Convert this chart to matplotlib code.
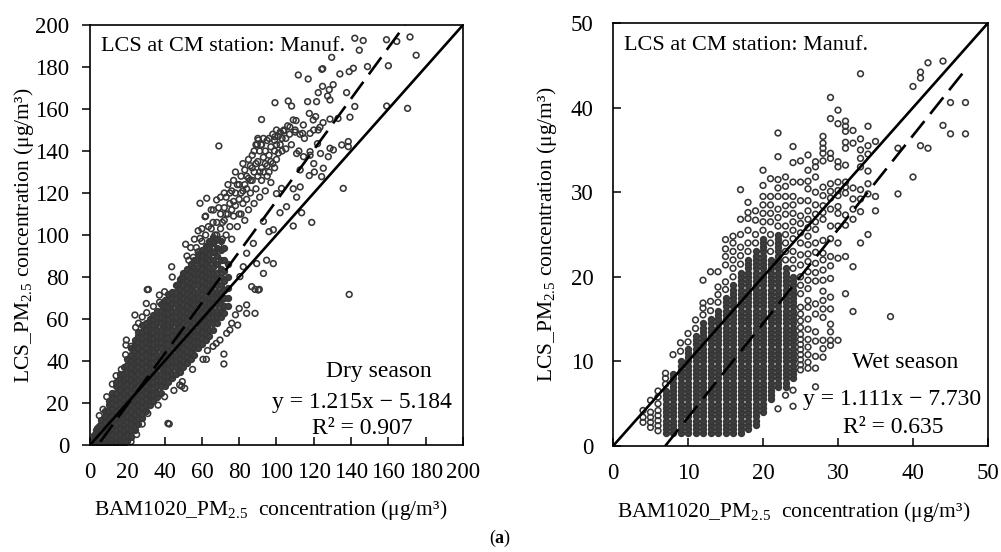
import matplotlib.pyplot as plt
import numpy as np

plt.rcParams['font.family'] = 'Liberation Serif'
plt.rcParams['mathtext.fontset'] = 'custom'
plt.rcParams['mathtext.rm'] = 'Liberation Serif'
plt.rcParams['mathtext.it'] = 'Liberation Serif:italic'
plt.rcParams['mathtext.bf'] = 'Liberation Serif:bold'

# ---------------- dry season (left) ----------------
dry_slope, dry_icpt, dry_r2 = 1.215, -5.184, 0.907
dry_fit_x = [5.5, 169]
dry_lim = 200

# dense core, one column per BAM value (overplotted into a solid mass)
dry_core_x = [2, 3, 4, 5, 6, 8, 10, 12, 14, 16, 18, 20, 22, 24, 26, 28, 30, 32, 34, 36,
              38, 40, 42, 44, 46, 48, 50, 52, 54, 56, 58, 60, 62, 64, 66, 68, 70, 72, 74]
dry_core_y = [
    [1, 3, 5],
    [1, 3, 5, 7],
    [1, 2, 4, 6, 8],
    [1, 3, 5, 7, 9],
    [1, 2, 4, 7, 10, 12],
    [1, 3, 5, 8, 11, 14, 16],
    [1, 2, 4, 7, 10, 13, 16, 19, 21],
    [1, 3, 5, 8, 11, 14, 17, 20, 23, 25],
    [1, 2, 4, 7, 10, 13, 16, 19, 22, 25, 28, 30],
    [1, 3, 5, 8, 11, 14, 17, 20, 23, 26, 29, 32, 34],
    [1, 2, 4, 7, 10, 13, 16, 19, 22, 25, 28, 31, 34, 37],
    [2, 5, 8, 11, 14, 17, 20, 23, 26, 29, 32, 35, 38, 41],
    [4, 7, 10, 13, 16, 19, 22, 25, 28, 31, 34, 37, 40, 43, 46],
    [7, 9, 12, 15, 18, 21, 24, 27, 30, 33, 36, 39, 42, 45, 48, 50],
    [10, 13, 16, 19, 22, 25, 28, 31, 34, 37, 40, 43, 46, 49, 52, 54],
    [13, 15, 18, 21, 24, 27, 30, 33, 36, 39, 42, 45, 48, 51, 54, 57],
    [16, 19, 22, 25, 28, 31, 34, 37, 40, 43, 46, 49, 52, 55, 58],
    [19, 21, 24, 27, 30, 33, 36, 39, 42, 45, 48, 51, 54, 57, 60],
    [21, 24, 27, 30, 33, 36, 39, 42, 45, 48, 51, 54, 57, 60, 62],
    [23, 25, 28, 31, 34, 37, 40, 43, 46, 49, 52, 55, 58, 61, 64],
    [25, 28, 31, 34, 37, 40, 43, 46, 49, 52, 55, 58, 61, 64, 67],
    [28, 30, 33, 36, 39, 42, 45, 48, 51, 54, 57, 60, 63, 66, 69],
    [30, 33, 36, 39, 42, 45, 48, 51, 54, 57, 60, 63, 66, 69, 72],
    [32, 34, 37, 40, 43, 46, 49, 52, 55, 58, 61, 64, 67, 70, 73],
    [34, 37, 40, 43, 46, 49, 52, 55, 58, 61, 64, 67, 70, 73, 76],
    [35, 38, 41, 44, 47, 50, 53, 56, 59, 62, 65, 68, 71, 74, 77, 79],
    [37, 40, 43, 46, 49, 52, 55, 58, 61, 64, 67, 70, 73, 76, 79, 82],
    [39, 42, 45, 48, 51, 54, 57, 60, 63, 66, 69, 72, 75, 78, 81, 84],
    [41, 44, 47, 50, 53, 56, 59, 62, 65, 68, 71, 74, 77, 80, 83, 86],
    [43, 46, 49, 52, 55, 58, 61, 64, 67, 70, 73, 76, 79, 82, 85, 88],
    [46, 49, 52, 55, 58, 61, 64, 67, 70, 73, 76, 79, 82, 85, 88, 91],
    [48, 51, 54, 57, 60, 63, 66, 69, 72, 75, 78, 81, 84, 87, 90, 93],
    [50, 53, 56, 59, 62, 65, 68, 71, 74, 77, 80, 83, 86, 89, 92, 95],
    [52, 55, 58, 61, 64, 67, 70, 73, 76, 79, 82, 85, 88, 91, 94, 97],
    [55, 58, 61, 64, 67, 70, 73, 76, 79, 82, 85, 88, 92, 96, 99],
    [58, 61, 64, 67, 70, 73, 76, 79, 82, 86, 90, 94, 98],
    [61, 64, 67, 70, 73, 76, 80, 84, 88, 93, 97],
    [63, 66, 70, 74, 78, 83, 88, 94],
    [66, 70, 75, 80, 86],
]

# scattered points around the core
dry_edge_pts = [
    (5, 14), (7, 17), (9, 23), (12, 29), (14, 33), (16.8, 36), (19.1, 43), (19.3, 47.6),
    (19.5, 50), (22, 47), (24.1, 61.9), (24.5, 56), (26, 58), (28, 61), (30.2, 67.4),
    (30.4, 63), (30.7, 74), (31.3, 74.1), (34, 66), (37.2, 71.4), (37.3, 68), (40, 73),
    (43.8, 84.9), (44.1, 80), (47.2, 76.2), (49.7, 80), (51.3, 95.6), (53, 88), (55.4, 89.4),
    (57, 94), (59, 98.4), (59, 115.1), (61.7, 108.7), (62.6, 117.5), (63.5, 104),
    (66.2, 111.9), (67.9, 116.7), (69.1, 142.4), (52, 90), (54, 94), (56, 98), (58, 102),
    (57, 88),
    (22, 1.6), (25, 5), (28, 10), (31, 15), (36.5, 19), (40, 23), (41.8, 10.3), (42.5, 10),
    (45, 26), (48.1, 28.6), (49.2, 28), (49.5, 30.2), (50.8, 27), (55, 36), (60.6, 40.8),
    (62.4, 40.8), (63, 45), (66, 47), (67.7, 48.4), (69.7, 50), (71.8, 43.3), (71.8, 38.6),
    (73.3, 53.2), (75, 54.8), (76, 58), (79.2, 57.1), (78, 62), (80, 65), (84, 66.7),
    (84, 62.7), (88.5, 74.1), (90.8, 74.1), (88.5, 62.7), (139, 71.7),
]
dry_band_pts = [
    (58, 92), (60, 97), (61, 90), (62, 100), (63, 94), (64, 88), (65, 103), (66, 97),
    (67, 92), (68, 106), (68, 100), (69, 95), (70, 110), (70, 103), (71, 98), (72, 107),
    (72, 113), (73, 100), (73, 118), (74, 110), (75, 104), (75, 115), (76, 98), (76, 121),
    (77, 109), (77, 126), (78, 114), (78, 120), (79, 104), (80, 117), (80, 124), (81, 110),
    (81, 128), (82, 115), (82, 121), (83, 107), (83, 131), (84, 122), (84, 117), (85, 127),
    (85, 112), (86, 133), (86, 120), (87, 126), (87, 138), (88, 115), (88, 130), (89, 143),
    (89, 122), (90, 135), (90, 128), (91, 118), (91, 140), (92, 132), (92, 126), (93, 146),
    (93, 137), (94, 121), (94, 140), (95, 133), (95, 128), (96, 146), (96, 138), (97, 142),
    (97, 125), (98, 148), (98, 134), (99, 145), (99, 140), (100, 150), (100, 136),
    (101, 147), (102, 143), (102, 149), (103, 140), (104, 150), (105, 146), (106, 152),
    (107, 148), (108, 143), (110, 150), (112, 140), (115, 146), (118, 138), (120, 150),
    (60, 103), (62, 109), (64, 96), (65, 112), (66, 106), (67, 100), (69, 113), (70, 118),
    (71, 106), (72, 120), (73, 110), (74, 124), (75, 120), (76, 112), (77, 116), (78, 130),
    (79, 124), (80, 110), (81, 120), (82, 134), (83, 124), (84, 128), (85, 136), (86, 126),
    (87, 132), (88, 140), (89, 134), (90, 146), (91, 130), (92, 143), (93, 130), (94, 134),
    (95, 145), (96, 130), (97, 135), (99, 132), (100, 143), (101, 139), (103, 146),
    (105, 141),
    (80.4, 80.2), (82.2, 84.9), (84, 91.3), (86.7, 75.4), (87.6, 96), (89.4, 86.4),
    (90.2, 73.8), (93, 81.7), (93, 106.5), (94.7, 88), (96, 101.6), (98.3, 102.5),
    (98.3, 86.4), (100, 119.7), (101.9, 110.6), (102.7, 122.2), (105.4, 113.5),
    (109, 104.3), (109, 122), (110.8, 118), (113.5, 110.6), (118.9, 106), (112.7, 122.9),
    (117.6, 128.3), (120.3, 130), (112.7, 131), (120, 134), (110.8, 138.8), (114.5, 137.3),
    (118, 139.7), (122, 143.5), (123.6, 138.8), (124.2, 127.8), (127.8, 137.3),
    (125.1, 131.8), (130.5, 140.5), (135.8, 122.2),
]
dry_high_pts = [
    (99.2, 163), (106.3, 163.8), (108.1, 161.4), (103.7, 149.5), (107.2, 151.4), (110, 149),
    (112.6, 148), (90.3, 145.2), (91.7, 143), (99.2, 146.8), (109, 154.8), (110.5, 154.5),
    (114.4, 152.4), (117.6, 157.9), (119.7, 154.8), (121, 156.4), (123.3, 151.3),
    (125, 153.5), (128.7, 155.2), (133, 155.5), (139.4, 156.1), (118, 148.4), (122.4, 150),
    (114, 148.4), (128.7, 141.3), (135, 142.9), (138.5, 144.5), (138.5, 142.1), (142, 161.2),
    (137.6, 167.8), (116.7, 163.5), (121.5, 163.5), (122.4, 167.8), (127.4, 166.2),
    (128.7, 164.3), (124.7, 170.8), (128.3, 169.2), (130.4, 171.6), (111.7, 176.2),
    (117, 174.3), (124.3, 178.9), (124.8, 179.2), (129.6, 184.6), (134, 176.7), (139, 177.8),
    (141.2, 179.4), (142, 193.7), (146.5, 192.6), (144.4, 188), (148.8, 180.2), (159, 193),
    (160, 180.6), (164.5, 192.2), (171.6, 194.3), (174.9, 185.6), (159.1, 161.4),
    (170.3, 160.3), (92, 155), (89.7, 143.2),
]

# ---------------- wet season (right) ----------------
wet_slope, wet_icpt, wet_r2 = 1.111, -7.730, 0.635
wet_fit_x = [6.96, 47]
wet_lim = 50

wet_x = [4, 5, 6, 7, 8, 9, 10, 11, 12, 13, 14, 15, 16, 17, 18, 19, 20, 21, 22, 23, 24,
         25, 26, 27, 28, 29, 30, 31, 32, 33, 34, 35, 37, 38, 40, 41, 42, 44, 45, 47]
wet_y = [
    [2.8, 3.4, 4.2],
    [2.2, 2.8, 3.4, 4.0, 5.4],
    [1.8, 2.4, 3.0, 3.6, 4.2, 5.0, 5.8, 6.5],
    [1.5, 2, 2.5, 3, 3.5, 4, 4.5, 5, 5.5, 6, 6.5, 7.3, 8.0, 8.6],
    [1.5, 2, 2.5, 3, 3.5, 4, 4.5, 5, 5.5, 6, 6.5, 7, 7.5, 8, 8.5, 10.8],
    [1.5, 2, 2.5, 3, 3.5, 4, 4.5, 5, 5.5, 6, 6.5, 7, 7.5, 8, 8.5, 9, 9.5, 10, 11.2, 12.2],
    [1.5, 2, 2.5, 3, 3.5, 4, 4.5, 5, 5.5, 6, 6.5, 7, 7.5, 8, 8.5, 9, 9.5, 10, 10.5, 11,
     11.5, 12.3, 13.3],
    [1.5, 2, 2.5, 3, 3.5, 4, 4.5, 5, 5.5, 6, 6.5, 7, 7.5, 8, 8.5, 9, 9.5, 10, 10.5, 11,
     11.5, 12, 12.5, 13, 13.9, 14.9],
    [1.5, 2, 2.5, 3, 3.5, 4, 4.5, 5, 5.5, 6, 6.5, 7, 7.5, 8, 8.5, 9, 9.5, 10, 10.5, 11,
     11.5, 12, 12.5, 13, 13.5, 14, 14.5, 15.5, 16.3, 16.9, 19.6],
    [1.5, 2, 2.5, 3, 3.5, 4, 4.5, 5, 5.5, 6, 6.5, 7, 7.5, 8, 8.5, 9, 9.5, 10, 10.5, 11,
     11.5, 12, 12.5, 13, 13.5, 14, 14.5, 15, 16, 17.1, 20.6],
    [1.5, 2, 2.5, 3, 3.5, 4, 4.5, 5, 5.5, 6, 6.5, 7, 7.5, 8, 8.5, 9, 9.5, 10, 10.5, 11,
     11.5, 12, 12.5, 13, 13.5, 14, 14.5, 15, 15.5, 16, 17, 17.9, 18.8, 20.6],
    [1.5, 2, 2.5, 3, 3.5, 4, 4.5, 5, 5.5, 6, 6.5, 7, 7.5, 8, 8.5, 9, 9.5, 10, 10.5, 11,
     11.5, 12, 12.5, 13, 13.5, 14, 14.5, 15, 15.5, 16, 16.5, 17, 17.5, 18.5, 19.4, 21.4,
     22.4, 23.3, 24.4],
    [1.5, 2, 2.5, 3, 3.5, 4, 4.5, 5, 5.5, 6, 6.5, 7, 7.5, 8, 8.5, 9, 9.5, 10, 10.5, 11,
     11.5, 12, 12.5, 13, 13.5, 14, 14.5, 15, 15.5, 16, 16.5, 17, 17.5, 18, 18.5, 19, 20,
     21, 22, 23, 24, 24.8],
    [1.5, 2, 2.5, 3, 3.5, 4, 4.5, 5, 5.5, 6, 6.5, 7, 7.5, 8, 8.5, 9, 9.5, 10, 10.5, 11,
     11.5, 12, 12.5, 13, 13.5, 14, 14.5, 15, 15.5, 16, 16.5, 17, 17.5, 18, 18.5, 19, 19.5,
     20, 20.5, 21.5, 22.5, 23.5, 25, 26.8, 30.3],
    [2, 2.5, 3, 3.5, 4, 4.5, 5, 5.5, 6, 6.5, 7, 7.5, 8, 8.5, 9, 9.5, 10, 10.5, 11, 11.5,
     12, 12.5, 13, 13.5, 14, 14.5, 15, 15.5, 16, 16.5, 17, 17.5, 18, 18.5, 19, 19.5, 20,
     20.5, 21, 21.5, 22, 23, 24, 25.5, 26.9, 27.6, 28.8],
    [2.5, 3, 3.5, 4, 4.5, 5, 5.5, 6, 6.5, 7, 7.5, 8, 8.5, 9, 9.5, 10, 10.5, 11, 11.5, 12,
     12.5, 13, 13.5, 14, 14.5, 15, 15.5, 16, 16.5, 17, 17.5, 18, 18.5, 19, 19.5, 20, 20.5,
     21, 21.5, 22, 22.5, 23, 24, 25, 26.7, 27.8],
    [4, 4.5, 5, 5.5, 6, 6.5, 7, 7.5, 8, 8.5, 9, 9.5, 10, 10.5, 11, 11.5, 12, 12.5, 13,
     13.5, 14, 14.5, 15, 15.5, 16, 16.5, 17, 17.5, 18, 18.5, 19, 19.5, 20, 20.5, 21, 21.5,
     22, 22.5, 23, 23.5, 24, 24.5, 25.5, 26.5, 27.5, 28.5, 29.5, 30.8, 32.6],
    [5.5, 6, 6.5, 7, 7.5, 8, 8.5, 9, 9.5, 10, 10.5, 11, 11.5, 12, 12.5, 13, 13.5, 14,
     14.5, 15, 15.5, 16, 16.5, 17, 17.5, 18, 18.5, 19, 19.5, 20, 20.5, 21, 21.5, 22, 23,
     24, 25, 26.5, 27.5, 28.5, 29.5, 31.6],
    [4.4, 7, 7.5, 8, 8.5, 9, 9.5, 10, 10.5, 11, 11.5, 12, 12.5, 13, 13.5, 14, 14.5, 15,
     15.5, 16, 16.5, 17, 17.5, 18, 18.5, 19, 19.5, 20, 20.5, 21, 21.5, 22, 22.5, 23, 23.5,
     24, 24.5, 25, 26, 27, 28, 29.5, 30.5, 31.5, 34.2, 37],
    [6, 7, 7.5, 8, 8.5, 9, 9.5, 10, 10.5, 11, 11.5, 12, 12.5, 13, 13.5, 14, 14.5, 15,
     15.5, 16, 16.5, 17, 17.5, 18, 18.5, 19, 19.5, 20, 20.5, 21, 22, 23, 24, 25, 26, 27.4,
     28.4, 29.5, 30.7, 31.8],
    [4.7, 6.6, 8, 8.5, 9, 9.5, 10, 10.5, 11, 11.5, 12, 12.5, 13, 13.5, 14, 14.5, 15, 15.5,
     16, 16.5, 17, 17.5, 18, 18.5, 19, 19.5, 20, 21, 22, 23, 24.5, 25.5, 26.5, 27.5, 28.5,
     29.5, 31.2, 33.5, 35.4],
    [9, 9.6, 10.2, 10.8, 11.4, 12, 12.6, 13.2, 14, 14.8, 15.6, 16.4, 18.0, 19.0, 20.0, 21.4,
     22.6, 24.0, 25.2, 26.3, 27.2, 29.0, 31.2, 33.7],
    [9.2, 9.9, 10.8, 11.7, 12.6, 13.8, 15.0, 16.4, 17.2, 18.6, 19.6, 20.6, 21.8, 22.7, 23.8,
     24.8, 25.8, 26.8, 27.8, 29.0, 30.4, 31.3, 32.6, 34.4],
    [7.0, 9.2, 10.6, 12.4, 13.5, 15.6, 16.8, 19.5, 20.5, 21.6, 22.9, 24.0, 25.6, 26.5, 27.4,
     28.5, 30.0, 31.8, 33.0, 33.6],
    [10.5, 11.5, 12.5, 15.2, 16.2, 17.2, 18.3, 19.6, 20.8, 22.0, 22.8, 24.3, 26.8, 27.6,
     28.4, 29.6, 30.6, 33.7, 34.6, 35.2, 35.8, 36.6],
    [11.9, 12.5, 13.5, 14.4, 16.2, 17.6, 19.8, 21.3, 22.4, 24.5, 26.0, 28.0, 29.3, 30.1,
     31.0, 34.0, 34.6, 38.7, 41.2],
    [12.5, 22.2, 24.0, 26.0, 27.5, 28.3, 29.6, 30.2, 31.2, 33.0, 33.6, 38.1, 39.7],
    [18.0, 22.4, 26.1, 27.3, 29.9, 30.6, 31.2, 33.2, 35.2, 35.9, 37.2, 37.8, 38.4],
    [15.9, 21.2, 26.8, 28.0, 29.2, 30.5, 35.8, 37.3],
    [24.0, 27.7, 29.2, 30.3, 33.0, 34.0, 35.0, 36.3, 44.0],
    [25.0, 29.8, 31.0, 32.5, 34.5, 35.5, 37.8],
    [27.8, 29.5, 36.0],
    [15.3],
    [29.8, 35.2],
    [31.8, 42.5],
    [35.5, 43.5, 44.2],
    [35.2, 45.3],
    [37.9, 45.5],
    [36.9, 40.6],
    [36.9, 40.6],
]

EDGE = '#363636'
FILL = '#3e3e3e'

# dry: core points overlap into a solid mass, the rest stay open
core_x, core_y = [], []
for x, ys in zip(dry_core_x, dry_core_y):
    core_x += [x] * len(ys)
    core_y += ys
open_pts = np.array(dry_edge_pts + dry_band_pts + dry_high_pts)

# wet: points stacked tighter than 0.55 in a column are overplotted
wet_dense_x, wet_dense_y, wet_open_x, wet_open_y = [], [], [], []
for x, ys in zip(wet_x, wet_y):
    ys = sorted(ys)
    for i, y in enumerate(ys):
        near = (i > 0 and y - ys[i - 1] <= 0.55) or (i < len(ys) - 1 and ys[i + 1] - y <= 0.55)
        if near:
            wet_dense_x.append(x)
            wet_dense_y.append(y)
        else:
            wet_open_x.append(x)
            wet_open_y.append(y)

fig = plt.figure(figsize=(10.01, 5.52), dpi=100)
ax1 = fig.add_axes([0.0899, 0.1938, 0.3726, 0.7609])
ax2 = fig.add_axes([0.6124, 0.192, 0.3746, 0.7663])

ax1.scatter(core_x, core_y, s=17, facecolors=FILL, edgecolors=EDGE, linewidths=1.15, zorder=2)
ax1.scatter(open_pts[:, 0], open_pts[:, 1], s=17, facecolors='none', edgecolors=EDGE,
            linewidths=1.15, zorder=2)
ax2.scatter(wet_dense_x, wet_dense_y, s=17, facecolors=FILL, edgecolors=EDGE, linewidths=1.15,
            zorder=2)
ax2.scatter(wet_open_x, wet_open_y, s=17, facecolors='none', edgecolors=EDGE, linewidths=1.15,
            zorder=2)

panels = [
    (ax1, dry_lim, dry_slope, dry_icpt, dry_fit_x, 20, 'out'),
    (ax2, wet_lim, wet_slope, wet_icpt, wet_fit_x, 10, 'in'),
]
for ax, lim, k, b, fx, step, ydir in panels:
    ax.plot([0, lim], [0, lim], color='black', lw=1.9, zorder=3)
    fx = np.array(fx)
    ax.plot(fx, k * fx + b, color='black', lw=1.9, dashes=(8, 3.5), zorder=3)
    ax.set_xlim(0, lim)
    ax.set_ylim(0, lim)
    ax.set_xticks(np.arange(0, lim + 1, step))
    ax.set_yticks(np.arange(0, lim + 1, step))
    ax.tick_params(axis='x', direction='in', length=6, width=1.1, labelsize=16.5, pad=12)
    ax.tick_params(axis='y', direction=ydir, length=6, width=1.1, labelsize=16.5,
                   pad=9 if ydir == 'out' else 14)
    for sp in ax.spines.values():
        sp.set_linewidth(1.2)
    ax.set_xlabel('BAM1020_PM$_{2.5}$  concentration (μg/m³)', fontsize=15.5)
    ax.set_ylabel('LCS_PM$_{2.5}$ concentration (μg/m³)', fontsize=15.5)
    ax.xaxis.set_label_coords(0.483, -0.155)
    ax.xaxis.label.set_verticalalignment('center')
    ax.yaxis.set_label_coords(-0.177, 0.5)
    ax.yaxis.label.set_verticalalignment('center')
    ax.text(0.03, 0.937, 'LCS at CM station: Manuf.', transform=ax.transAxes,
            fontsize=16, va='baseline', ha='left')

ax1.text(0.775, 0.163, 'Dry season', transform=ax1.transAxes, fontsize=17, ha='center', va='baseline')
ax1.text(0.729, 0.088, f'y = {dry_slope:.3f}x \u2212 {abs(dry_icpt):.3f}', transform=ax1.transAxes,
         fontsize=17, ha='center', va='baseline')
ax1.text(0.729, 0.026, f'R² = {dry_r2:.3f}', transform=ax1.transAxes, fontsize=17,
         ha='center', va='baseline')

ax2.text(0.779, 0.184, 'Wet season', transform=ax2.transAxes, fontsize=17, ha='center', va='baseline')
ax2.text(0.744, 0.097, f'y = {wet_slope:.3f}x \u2212 {abs(wet_icpt):.3f}', transform=ax2.transAxes,
         fontsize=17, ha='center', va='baseline')
ax2.text(0.747, 0.031, f'R² = {wet_r2:.3f}', transform=ax2.transAxes, fontsize=17,
         ha='center', va='baseline')

fig.text(0.5, 1 - 538 / 552, r'($\mathbf{a}$)', fontsize=13, ha='center', va='center')

fig.savefig('out.png', dpi=100)
